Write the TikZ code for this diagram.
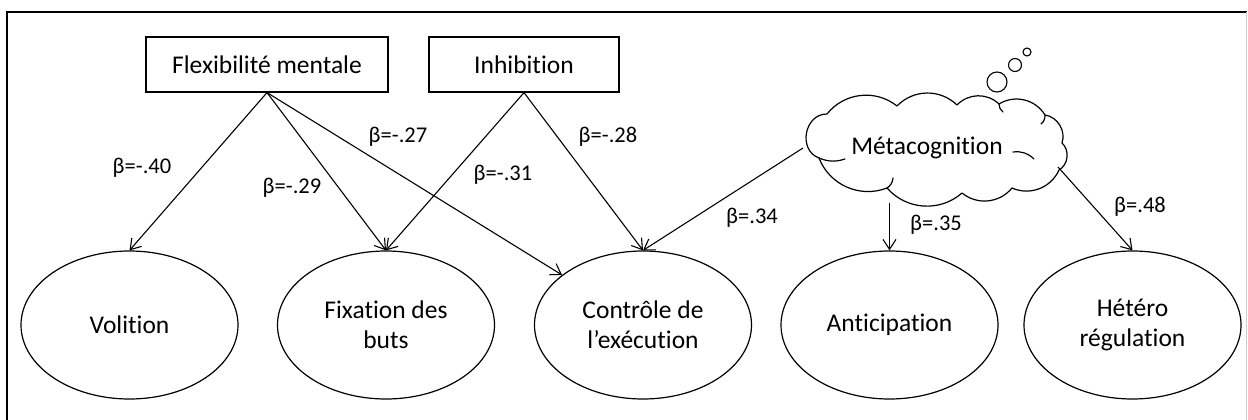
\documentclass[tikz,border=0pt]{standalone}
\usepackage{fontspec}
\setmainfont{Carlito}[Ligatures=NoCommon]
\usetikzlibrary{shapes.geometric,arrows.meta}
\begin{document}
\begin{tikzpicture}[x=1pt,y=-1pt,
  box/.style={draw, line width=1.2pt, minimum width=#1, minimum height=55pt,
    inner sep=0pt, font=\fontsize{25.5}{30}\selectfont},
  oval/.style={draw, ellipse, line width=1.2pt, minimum width=217pt,
    minimum height=148pt, inner sep=0pt, align=center,
    font=\fontsize{25.5}{30}\selectfont},
  plain/.style={inner sep=0pt, font=\fontsize{25.5}{30}\selectfont},
  puff/.style={line width=1.2pt, line join=round, line cap=round},
  bubble/.style={draw, circle, line width=1.1pt, inner sep=0pt, minimum size=#1},
  link/.style={-{Straight Barb[length=10pt,width=13pt]}, line width=1.1pt},
  lab/.style={font=\fontsize{22.5}{27}\selectfont, inner sep=0pt},
]
\useasboundingbox (0,0) rectangle (1248,420);
\fill[white] (0,0) rectangle (1248,420);

% frame
\draw[line width=2pt] (7,420) -- (7,12) -- (1247,12);
\draw[line width=0.8pt, black!20] (1246,12) -- (1246,420);

% predictors
\node[box=242pt] (flex) at (267,64.5) {Flexibilité mentale};
\node[box=190pt] (inh) at (524,64.5) {Inhibition};

% thought cloud (local frame, y pointing up)
\begin{scope}[shift={(937,148)}, x=1pt, y=1pt]
  \draw[puff]
    (-110,34) to[bend left=45] (-40,42) to[bend left=45] (20,43)
    to[bend left=45] (62,44) to[bend left=45] (108,33)
    to[bend left=50] (125,5) to[bend left=55] (122,-22)
    to[bend left=45] (75,-40) to[bend left=45] (25,-45)
    to[bend left=45] (-50,-40) to[bend left=45] (-118,-10)
    to[bend left=80, looseness=1.3] (-110,34);
  % overlapping puff edges inside the outline
  \draw[puff] (-118,-10) to[bend right=20] (-92,-11);
  \draw[puff] (76,-4) to[bend left=25] (97,-11);
  \draw[puff] (-50,-40) to[bend right=25] (-44,-30);
  \draw[puff] (62,44) to[bend right=25] (66,36);
  \draw[puff] (108,33) to[bend left=25] (104,24);
  \coordinate (mw) at (-134,0);
  \coordinate (ms) at (-47.5,-55);
  \coordinate (me) at (121,-19);
\end{scope}
\node[plain] (meta) at (927,148) {Métacognition};
\node[bubble=20pt] (b1) at (997,82) {};
\node[bubble=13pt] (b2) at (1015,65) {};
\node[bubble=8pt] (b3) at (1027,52) {};

% outcomes
\node[oval] (vol) at (129.5,325) {Volition};
\node[oval] (fix) at (386,325) {Fixation des\\buts};
\node[oval] (ctrl) at (643,325) {Contrôle de\\l’exécution};
\node[oval] (ant) at (889.5,325) {Anticipation};
\node[oval] (het) at (1132.5,325) {Hétéro\\régulation};

% paths
\draw[link] (flex.south) -- (vol.north);
\draw[link] (flex.south) -- (fix.north);
\draw[link] (flex.south) -- (ctrl);
\draw[link] (inh.south) -- (fix.north);
\draw[link] (inh.south) -- (ctrl.north);
\draw[link] (mw) -- (ctrl.north);
\draw[link] (ms) -- (ant.north);
\draw[link] (me) -- (het.north);

% coefficients
\node[lab] (c1) at (142,168) {β=-.40};
\node[lab] (c2) at (292,188) {β=-.29};
\node[lab] (c3) at (398,137) {β=-.27};
\node[lab] (c4) at (503,175) {β=-.31};
\node[lab] (c5) at (608,137) {β=-.28};
\node[lab] (c6) at (752,218) {β=.34};
\node[lab] (c7) at (936,225) {β=.35};
\node[lab] (c8) at (1140,207) {β=.48};
\end{tikzpicture}
\end{document}
